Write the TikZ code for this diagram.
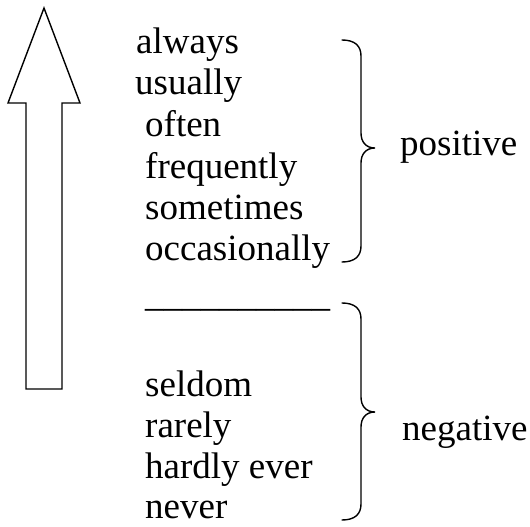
\documentclass[tikz,border=0pt]{standalone}
\usepackage{fontspec}
\setmainfont{Liberation Serif}
\begin{document}
\begin{tikzpicture}[x=1pt,y=-1pt,
  word/.style={anchor=base west, inner sep=0pt, font=\fontsize{37}{43}\selectfont},
  outline/.style={line width=1.4pt, line join=miter},
  bracepath/.style={line width=1.4pt, line cap=round}]
\useasboundingbox (0,0) rectangle (530,527);
% arrow
\draw[outline] (44,8) -- (80,103) -- (62,103) -- (62,389) -- (26,389) -- (26,103) -- (8,103) -- cycle;
% words
\node[word] (w1) at (136,54) {always};
\node[word] (w2) at (135,95) {usually};
\node[word] (w3) at (145,136) {often};
\node[word] (w4) at (145,178) {frequently};
\node[word] (w5) at (145,219) {sometimes};
\node[word] (w6) at (145,260) {occasionally};
\node[word] (sep) at (145,306) {\_\_\_\_\_\_\_\_\_\_};
\node[word] (w7) at (145,396) {seldom};
\node[word] (w8) at (145,437) {rarely};
\node[word] (w9) at (145,478) {hardly ever};
\node[word] (w10) at (145,518) {never};
% braces
\draw[bracepath] (342,40) .. controls (355,40) and (361,46) .. (361,56) -- (361,133)
  .. controls (361,142) and (366,148) .. (375,148)
  .. controls (366,148) and (361,154) .. (361,163) -- (361,246)
  .. controls (361,256) and (355,262) .. (342,262);
\draw[bracepath] (342,303) .. controls (355,303) and (361,309) .. (361,319) -- (361,397)
  .. controls (361,406) and (366,412) .. (375,412)
  .. controls (366,412) and (361,418) .. (361,427) -- (361,504)
  .. controls (361,514) and (355,520) .. (342,520);
\node[word] (pos) at (400,155) {positive};
\node[word] (neg) at (402,440) {negative};
\end{tikzpicture}
\end{document}
